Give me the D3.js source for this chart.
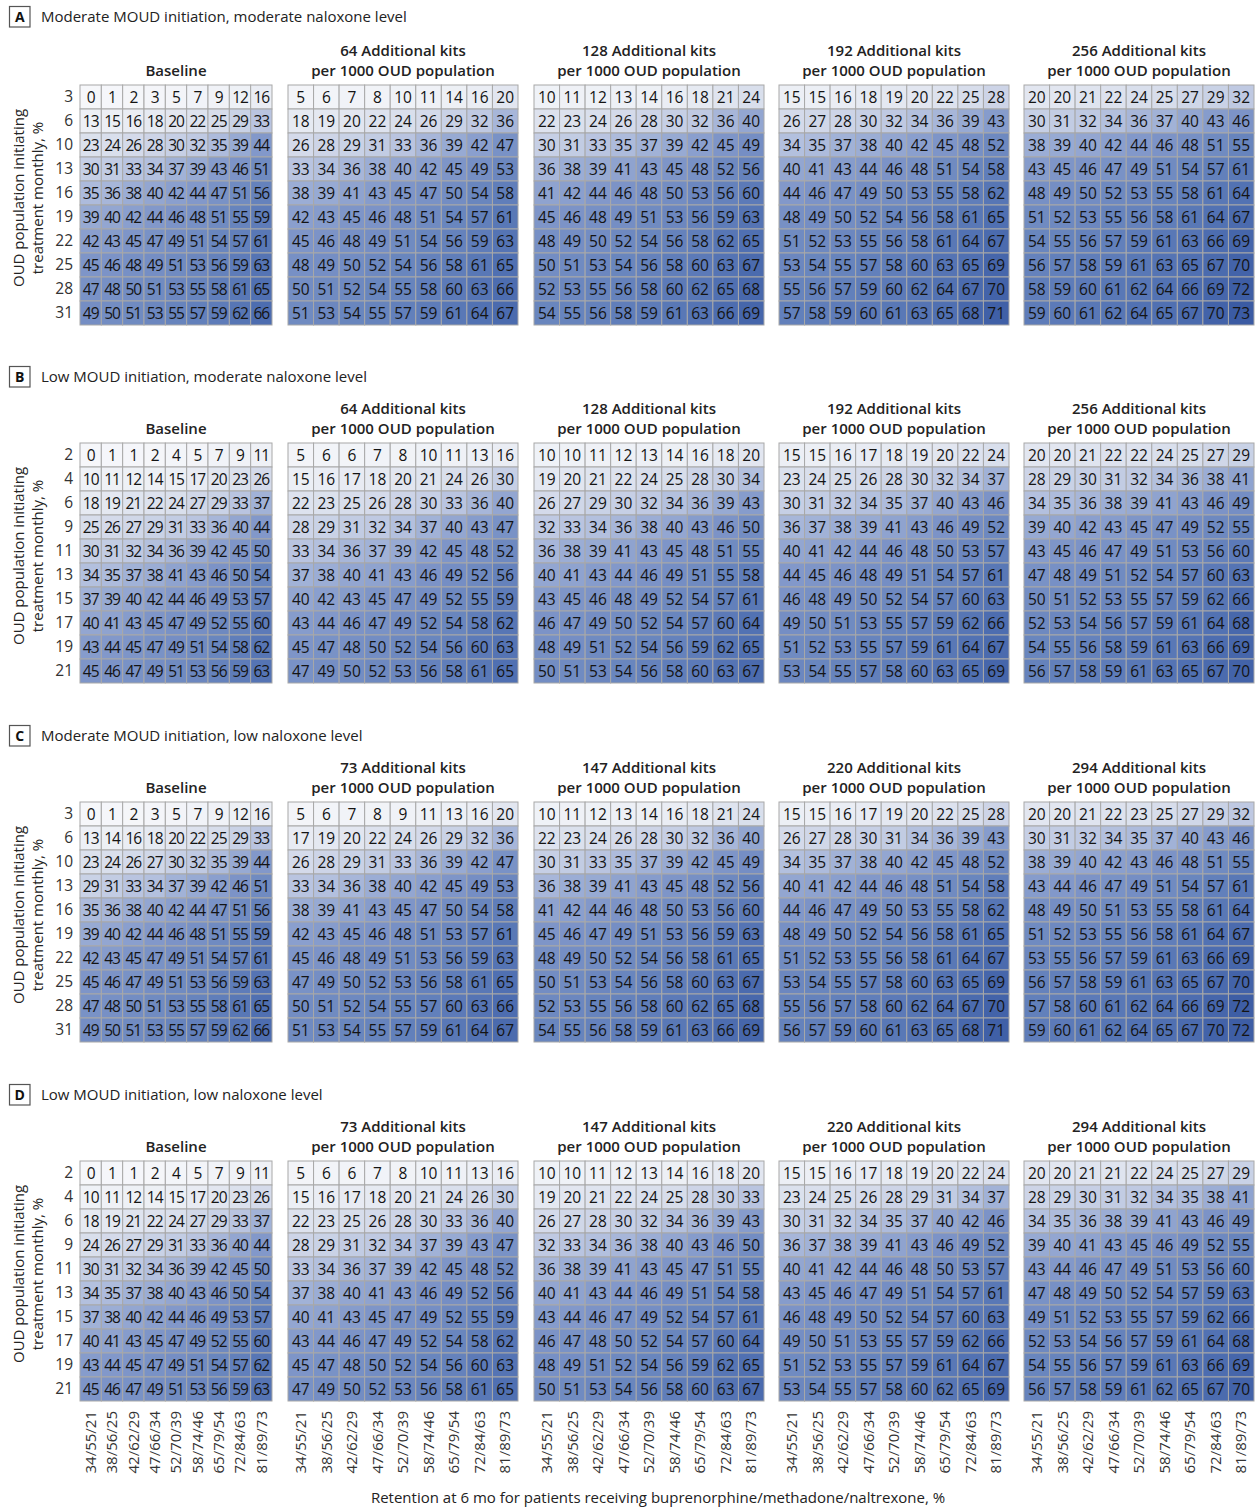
<!DOCTYPE html>
<html>
<head>
<meta charset="utf-8">
<script src="https://cdn.jsdelivr.net/npm/d3@7"></script>
<style>
  body { margin: 0; background: #fff; }
  svg { display: block; }
  text { font-family: "Open Sans", "Noto Sans", sans-serif; }
</style>
</head>
<body>
<svg id="chart" width="1258" height="1508"></svg>
<script>
// Retention at 6 months (buprenorphine/methadone/naltrexone), one label per column
const retentionLabels = ["34/55/21", "38/56/25", "42/62/29", "47/66/34", "52/70/39",
                         "58/74/46", "65/79/54", "72/84/63", "81/89/73"];

// Monthly treatment initiation (%), one label per row
const initiationModerate = [3, 6, 10, 13, 16, 19, 22, 25, 28, 31];
const initiationLow = [2, 4, 6, 9, 11, 13, 15, 17, 19, 21];

// Additional naloxone kits per 1000 OUD population
const kitsModerateNaloxone = [64, 128, 192, 256];
const kitsLowNaloxone = [73, 147, 220, 294];

const panelLetters = ["A", "B", "C", "D"];
const panelTitles = [
  "Moderate MOUD initiation, moderate naloxone level",
  "Low MOUD initiation, moderate naloxone level",
  "Moderate MOUD initiation, low naloxone level",
  "Low MOUD initiation, low naloxone level"
];

// Panel A: moderate MOUD initiation, moderate naloxone (baseline, +64, +128, +192, +256)
const gridsA = [
  [[0,1,2,3,5,7,9,12,16],[13,15,16,18,20,22,25,29,33],[23,24,26,28,30,32,35,39,44],[30,31,33,34,37,39,43,46,51],[35,36,38,40,42,44,47,51,56],[39,40,42,44,46,48,51,55,59],[42,43,45,47,49,51,54,57,61],[45,46,48,49,51,53,56,59,63],[47,48,50,51,53,55,58,61,65],[49,50,51,53,55,57,59,62,66]],
  [[5,6,7,8,10,11,14,16,20],[18,19,20,22,24,26,29,32,36],[26,28,29,31,33,36,39,42,47],[33,34,36,38,40,42,45,49,53],[38,39,41,43,45,47,50,54,58],[42,43,45,46,48,51,54,57,61],[45,46,48,49,51,54,56,59,63],[48,49,50,52,54,56,58,61,65],[50,51,52,54,55,58,60,63,66],[51,53,54,55,57,59,61,64,67]],
  [[10,11,12,13,14,16,18,21,24],[22,23,24,26,28,30,32,36,40],[30,31,33,35,37,39,42,45,49],[36,38,39,41,43,45,48,52,56],[41,42,44,46,48,50,53,56,60],[45,46,48,49,51,53,56,59,63],[48,49,50,52,54,56,58,62,65],[50,51,53,54,56,58,60,63,67],[52,53,55,56,58,60,62,65,68],[54,55,56,58,59,61,63,66,69]],
  [[15,15,16,18,19,20,22,25,28],[26,27,28,30,32,34,36,39,43],[34,35,37,38,40,42,45,48,52],[40,41,43,44,46,48,51,54,58],[44,46,47,49,50,53,55,58,62],[48,49,50,52,54,56,58,61,65],[51,52,53,55,56,58,61,64,67],[53,54,55,57,58,60,63,65,69],[55,56,57,59,60,62,64,67,70],[57,58,59,60,61,63,65,68,71]],
  [[20,20,21,22,24,25,27,29,32],[30,31,32,34,36,37,40,43,46],[38,39,40,42,44,46,48,51,55],[43,45,46,47,49,51,54,57,61],[48,49,50,52,53,55,58,61,64],[51,52,53,55,56,58,61,64,67],[54,55,56,57,59,61,63,66,69],[56,57,58,59,61,63,65,67,70],[58,59,60,61,62,64,66,69,72],[59,60,61,62,64,65,67,70,73]]
];

// Panel B: low MOUD initiation, moderate naloxone
const gridsB = [
  [[0,1,1,2,4,5,7,9,11],[10,11,12,14,15,17,20,23,26],[18,19,21,22,24,27,29,33,37],[25,26,27,29,31,33,36,40,44],[30,31,32,34,36,39,42,45,50],[34,35,37,38,41,43,46,50,54],[37,39,40,42,44,46,49,53,57],[40,41,43,45,47,49,52,55,60],[43,44,45,47,49,51,54,58,62],[45,46,47,49,51,53,56,59,63]],
  [[5,6,6,7,8,10,11,13,16],[15,16,17,18,20,21,24,26,30],[22,23,25,26,28,30,33,36,40],[28,29,31,32,34,37,40,43,47],[33,34,36,37,39,42,45,48,52],[37,38,40,41,43,46,49,52,56],[40,42,43,45,47,49,52,55,59],[43,44,46,47,49,52,54,58,62],[45,47,48,50,52,54,56,60,63],[47,49,50,52,53,56,58,61,65]],
  [[10,10,11,12,13,14,16,18,20],[19,20,21,22,24,25,28,30,34],[26,27,29,30,32,34,36,39,43],[32,33,34,36,38,40,43,46,50],[36,38,39,41,43,45,48,51,55],[40,41,43,44,46,49,51,55,58],[43,45,46,48,49,52,54,57,61],[46,47,49,50,52,54,57,60,64],[48,49,51,52,54,56,59,62,65],[50,51,53,54,56,58,60,63,67]],
  [[15,15,16,17,18,19,20,22,24],[23,24,25,26,28,30,32,34,37],[30,31,32,34,35,37,40,43,46],[36,37,38,39,41,43,46,49,52],[40,41,42,44,46,48,50,53,57],[44,45,46,48,49,51,54,57,61],[46,48,49,50,52,54,57,60,63],[49,50,51,53,55,57,59,62,66],[51,52,53,55,57,59,61,64,67],[53,54,55,57,58,60,63,65,69]],
  [[20,20,21,22,22,24,25,27,29],[28,29,30,31,32,34,36,38,41],[34,35,36,38,39,41,43,46,49],[39,40,42,43,45,47,49,52,55],[43,45,46,47,49,51,53,56,60],[47,48,49,51,52,54,57,60,63],[50,51,52,53,55,57,59,62,66],[52,53,54,56,57,59,61,64,68],[54,55,56,58,59,61,63,66,69],[56,57,58,59,61,63,65,67,70]]
];

// Panel C: moderate MOUD initiation, low naloxone (baseline, +73, +147, +220, +294)
const gridsC = [
  [[0,1,2,3,5,7,9,12,16],[13,14,16,18,20,22,25,29,33],[23,24,26,27,30,32,35,39,44],[29,31,33,34,37,39,42,46,51],[35,36,38,40,42,44,47,51,56],[39,40,42,44,46,48,51,55,59],[42,43,45,47,49,51,54,57,61],[45,46,47,49,51,53,56,59,63],[47,48,50,51,53,55,58,61,65],[49,50,51,53,55,57,59,62,66]],
  [[5,6,7,8,9,11,13,16,20],[17,19,20,22,24,26,29,32,36],[26,28,29,31,33,36,39,42,47],[33,34,36,38,40,42,45,49,53],[38,39,41,43,45,47,50,54,58],[42,43,45,46,48,51,53,57,61],[45,46,48,49,51,53,56,59,63],[47,49,50,52,53,56,58,61,65],[50,51,52,54,55,57,60,63,66],[51,53,54,55,57,59,61,64,67]],
  [[10,11,12,13,14,16,18,21,24],[22,23,24,26,28,30,32,36,40],[30,31,33,35,37,39,42,45,49],[36,38,39,41,43,45,48,52,56],[41,42,44,46,48,50,53,56,60],[45,46,47,49,51,53,56,59,63],[48,49,50,52,54,56,58,61,65],[50,51,53,54,56,58,60,63,67],[52,53,55,56,58,60,62,65,68],[54,55,56,58,59,61,63,66,69]],
  [[15,15,16,17,19,20,22,25,28],[26,27,28,30,31,34,36,39,43],[34,35,37,38,40,42,45,48,52],[40,41,42,44,46,48,51,54,58],[44,46,47,49,50,53,55,58,62],[48,49,50,52,54,56,58,61,65],[51,52,53,55,56,58,61,64,67],[53,54,55,57,58,60,63,65,69],[55,56,57,58,60,62,64,67,70],[56,57,59,60,61,63,65,68,71]],
  [[20,20,21,22,23,25,27,29,32],[30,31,32,34,35,37,40,43,46],[38,39,40,42,43,46,48,51,55],[43,44,46,47,49,51,54,57,61],[48,49,50,51,53,55,58,61,64],[51,52,53,55,56,58,61,64,67],[53,55,56,57,59,61,63,66,69],[56,57,58,59,61,63,65,67,70],[57,58,60,61,62,64,66,69,72],[59,60,61,62,64,65,67,70,72]]
];

// Panel D: low MOUD initiation, low naloxone
const gridsD = [
  [[0,1,1,2,4,5,7,9,11],[10,11,12,14,15,17,20,23,26],[18,19,21,22,24,27,29,33,37],[24,26,27,29,31,33,36,40,44],[30,31,32,34,36,39,42,45,50],[34,35,37,38,40,43,46,50,54],[37,38,40,42,44,46,49,53,57],[40,41,43,45,47,49,52,55,60],[43,44,45,47,49,51,54,57,62],[45,46,47,49,51,53,56,59,63]],
  [[5,6,6,7,8,10,11,13,16],[15,16,17,18,20,21,24,26,30],[22,23,25,26,28,30,33,36,40],[28,29,31,32,34,37,39,43,47],[33,34,36,37,39,42,45,48,52],[37,38,40,41,43,46,49,52,56],[40,41,43,45,47,49,52,55,59],[43,44,46,47,49,52,54,58,62],[45,47,48,50,52,54,56,60,63],[47,49,50,52,53,56,58,61,65]],
  [[10,10,11,12,13,14,16,18,20],[19,20,21,22,24,25,28,30,33],[26,27,28,30,32,34,36,39,43],[32,33,34,36,38,40,43,46,50],[36,38,39,41,43,45,47,51,55],[40,41,43,44,46,49,51,54,58],[43,44,46,47,49,52,54,57,61],[46,47,48,50,52,54,57,60,64],[48,49,51,52,54,56,59,62,65],[50,51,53,54,56,58,60,63,67]],
  [[15,15,16,17,18,19,20,22,24],[23,24,25,26,28,29,31,34,37],[30,31,32,34,35,37,40,42,46],[36,37,38,39,41,43,46,49,52],[40,41,42,44,46,48,50,53,57],[43,45,46,47,49,51,54,57,61],[46,48,49,50,52,54,57,60,63],[49,50,51,53,55,57,59,62,66],[51,52,53,55,57,59,61,64,67],[53,54,55,57,58,60,62,65,69]],
  [[20,20,21,21,22,24,25,27,29],[28,29,30,31,32,34,35,38,41],[34,35,36,38,39,41,43,46,49],[39,40,41,43,45,46,49,52,55],[43,44,46,47,49,51,53,56,60],[47,48,49,50,52,54,57,59,63],[49,51,52,53,55,57,59,62,66],[52,53,54,56,57,59,61,64,68],[54,55,56,57,59,61,63,66,69],[56,57,58,59,61,62,65,67,70]]
];

// ---- assembly --------------------------------------------------------------
const panels = [
  { letter: panelLetters[0], title: panelTitles[0], rows: initiationModerate, kits: kitsModerateNaloxone, grids: gridsA },
  { letter: panelLetters[1], title: panelTitles[1], rows: initiationLow,      kits: kitsModerateNaloxone, grids: gridsB },
  { letter: panelLetters[2], title: panelTitles[2], rows: initiationModerate, kits: kitsLowNaloxone,      grids: gridsC },
  { letter: panelLetters[3], title: panelTitles[3], rows: initiationLow,      kits: kitsLowNaloxone,      grids: gridsD }
];

const svg = d3.select("#chart");

// layout
const panelTops = [85, 443, 802, 1161];
const panelTitleY = [22, 382, 741, 1100];
const gridHeight = 240;
const facetX = [[80, 272], [288, 518], [534, 764], [779, 1009], [1024, 1254]];

// sequential blue ramp for the percentage values
const color = d3.scaleLinear()
  .domain([0, 15, 25, 32, 38, 45, 55, 65, 73])
  .range(["#f6f7fa", "#eceff5", "#d7ddeb", "#bfc9e2", "#9badd5", "#7e95c8", "#6784bd", "#5070b2", "#3b5ba3"])
  .clamp(true);

const cols = d3.range(retentionLabels.length);

panels.forEach((p, pi) => {
  const top = panelTops[pi];
  const g = svg.append("g");

  // panel letter box and title
  const titleY = panelTitleY[pi];
  g.append("rect")
    .attr("x", 9.5).attr("y", titleY - 15.5)
    .attr("width", 20.5).attr("height", 20.5)
    .attr("fill", "#fff").attr("stroke", "#555").attr("stroke-width", 1.2);
  g.append("text")
    .attr("x", 19.75).attr("y", titleY)
    .attr("text-anchor", "middle")
    .attr("font-size", 14).attr("font-weight", 700).attr("fill", "#111")
    .text(p.letter);
  g.append("text")
    .attr("x", 41).attr("y", titleY)
    .attr("font-size", 15).attr("fill", "#222")
    .text(p.title);

  // y axis title
  const yMid = top + 113;
  g.append("text")
    .attr("transform", `translate(24,${yMid}) rotate(-90)`)
    .attr("text-anchor", "middle").attr("font-size", 15).attr("fill", "#222")
    .text("OUD population initiating");
  g.append("text")
    .attr("transform", `translate(43,${yMid}) rotate(-90)`)
    .attr("text-anchor", "middle").attr("font-size", 15).attr("fill", "#222")
    .text("treatment monthly, %");

  const y = d3.scaleBand().domain(p.rows).range([top, top + gridHeight]);

  p.grids.forEach((grid, fi) => {
    const x = d3.scaleBand().domain(cols).range(facetX[fi]);
    const fg = g.append("g");

    // facet header
    const cx = (facetX[fi][0] + facetX[fi][1]) / 2;
    const header = fi === 0 ? ["Baseline"] : [`${p.kits[fi - 1]} Additional kits`, "per 1000 OUD population"];
    header.forEach((line, li) => {
      fg.append("text")
        .attr("x", cx)
        .attr("y", top - 9 - (header.length - 1 - li) * 20)
        .attr("text-anchor", "middle")
        .attr("font-size", 15).attr("font-weight", 600).attr("fill", "#222")
        .text(line);
    });

    const cells = [];
    grid.forEach((row, ri) => row.forEach((v, ci) => cells.push({ r: p.rows[ri], c: ci, v })));

    fg.selectAll("rect.cell").data(cells).join("rect")
      .attr("class", "cell")
      .attr("x", d => x(d.c)).attr("y", d => y(d.r))
      .attr("width", x.bandwidth()).attr("height", y.bandwidth())
      .attr("fill", d => color(d.v))
      .attr("stroke", "#a8a8a8").attr("stroke-width", 1);

    fg.selectAll("text.val").data(cells).join("text")
      .attr("class", "val")
      .attr("x", d => x(d.c) + x.bandwidth() / 2)
      .attr("y", d => y(d.r) + y.bandwidth() / 2)
      .attr("dy", "0.36em")
      .attr("text-anchor", "middle")
      .attr("font-size", 15.5)
      .attr("letter-spacing", fi === 0 ? -1 : 0)
      .attr("fill", "#141414")
      .text(d => d.v);

    // row labels on the first facet
    if (fi === 0) {
      const ax = fg.append("g")
        .attr("transform", `translate(${facetX[0][0]},0)`)
        .call(d3.axisLeft(y).tickSize(0).tickPadding(7));
      ax.select(".domain").remove();
      ax.selectAll("text").attr("font-size", 15.5).attr("fill", "#333")
        .style("font-family", '"Open Sans", sans-serif');
    }

    // column labels under the last panel
    if (pi === panels.length - 1) {
      const ax = fg.append("g")
        .attr("transform", `translate(0,${top + gridHeight})`)
        .call(d3.axisBottom(x).tickSize(0).tickFormat(i => retentionLabels[i]));
      ax.select(".domain").remove();
      ax.selectAll("text")
        .attr("transform", "rotate(-90)")
        .attr("text-anchor", "end")
        .attr("x", -10).attr("y", 0).attr("dy", "0.35em")
        .attr("font-size", 15).attr("fill", "#333")
        .style("font-family", '"Open Sans", sans-serif');
    }
  });
});

// shared x axis title
svg.append("text")
  .attr("x", 658).attr("y", 1503)
  .attr("text-anchor", "middle")
  .attr("font-size", 15).attr("fill", "#222")
  .text("Retention at 6 mo for patients receiving buprenorphine/methadone/naltrexone, %");
</script>
</body>
</html>
